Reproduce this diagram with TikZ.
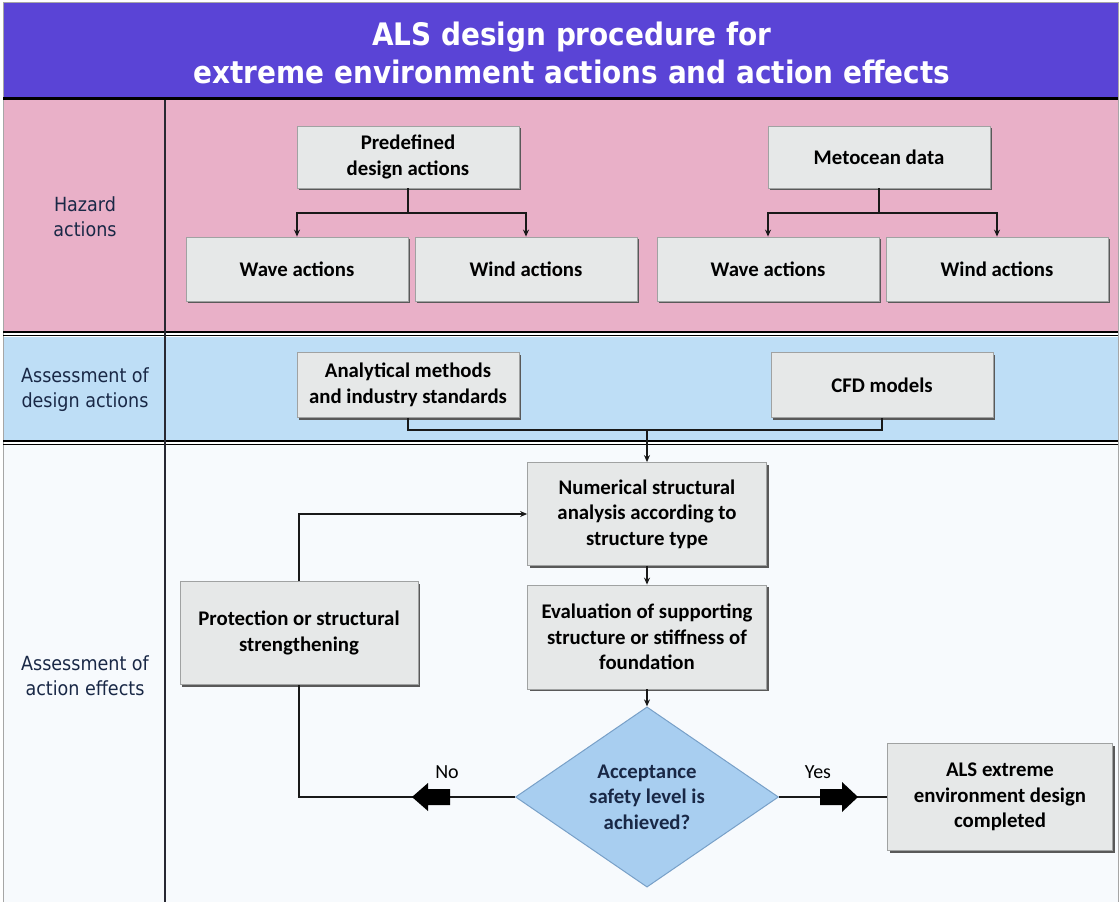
\documentclass[tikz,border=0pt]{standalone}
\usepackage{fontspec}
\setmainfont{Carlito}
\newfontfamily\condfont{DejaVu Sans Condensed}
\usetikzlibrary{shapes.geometric,shadows,arrows.meta}

\definecolor{titlebg}{RGB}{90,68,214}
\definecolor{hazardbg}{RGB}{233,176,200}
\definecolor{assessbg}{RGB}{190,222,246}
\definecolor{effectbg}{RGB}{247,250,253}
\definecolor{boxfill}{RGB}{230,232,232}
\definecolor{boxline}{RGB}{160,162,162}
\definecolor{decfill}{RGB}{168,206,240}
\definecolor{decline}{RGB}{120,160,200}
\definecolor{navy}{RGB}{25,40,70}
\definecolor{divider}{RGB}{40,40,50}

\begin{document}
\begin{tikzpicture}[x=1pt,y=-1pt,
  box/.style={draw=boxline, line width=0.8pt, fill=boxfill,
    minimum width=222pt, minimum height=64pt, inner sep=2pt,
    align=center, text=black,
    font=\bfseries\fontsize{20.8}{25.5}\selectfont,
    drop shadow={shadow xshift=2.4pt, shadow yshift=-2.4pt,
      fill=black!65, opacity=1}},
  lanelabel/.style={align=center, text=navy,
    font=\condfont\fontsize{19.5}{25}\selectfont},
  decision/.style={diamond, draw=decline, line width=1pt, fill=decfill,
    minimum width=263pt, minimum height=177pt, inner sep=0pt,
    align=center, text=navy,
    font=\bfseries\fontsize{20.8}{25.5}\selectfont},
  fatarrow/.style={fill=black},
  branch/.style={font=\fontsize{20}{24}\selectfont, text=black},
  line/.style={draw=black!90, line width=1.8pt},
  arr/.style={line, -{Stealth[length=7pt,width=6pt]}}
]
\useasboundingbox (0,0) rectangle (1120,902);

% lanes
\fill[white] (0,0) rectangle (1120,902);
\fill[titlebg] (3,2) rectangle (1118,97);
\fill[hazardbg] (3,100) rectangle (1118,332);
\fill[assessbg] (3,337) rectangle (1118,441);
\fill[effectbg] (3,445) rectangle (1118,902);
\draw[black!35, line width=0.6pt] (3,2) rectangle (1118,902);
\draw[black, line width=3pt] (3,98.5) -- (1118,98.5);
\draw[black, line width=1.2pt] (3,332) -- (1118,332);
\draw[black, line width=1.6pt] (3,335.5) -- (1118,335.5);
\draw[black, line width=1.2pt] (3,441) -- (1118,441);
\draw[black, line width=1.6pt] (3,444.5) -- (1118,444.5);
\draw[divider, line width=2.6pt] (165,100) -- (165,902);

% title
\node[text=white, align=center,
  font=\condfont\bfseries\fontsize{31}{38}\selectfont] (title)
  at (572,53) {ALS design procedure for\\extreme environment actions and action effects};

% lane labels
\node[lanelabel] (lhz) at (85,217) {Hazard\\actions};
\node[lanelabel] (las) at (85,390) {Assessment of\\design actions};
\node[lanelabel] (lef) at (85,676) {Assessment of\\action effects};

% hazard actions
\node[box, minimum height=62pt] (pre) at (408,157) {Predefined\\design actions};
\node[box, minimum height=62pt] (met) at (879,157) {Metocean data};
\node[box] (wa1) at (297,269) {Wave actions};
\node[box] (wi1) at (526,269) {Wind actions};
\node[box] (wa2) at (768,269) {Wave actions};
\node[box] (wi2) at (997,269) {Wind actions};

\coordinate (j1) at (408,213);
\coordinate (j2) at (879,213);
\draw[line] (pre) -- (j1);
\draw[arr] (j1) -| (wa1);
\draw[arr] (j1) -| (wi1);
\draw[line] (met) -- (j2);
\draw[arr] (j2) -| (wa2);
\draw[arr] (j2) -| (wi2);

% assessment of design actions
\node[box, minimum height=65pt] (ana) at (408,385) {Analytical methods\\and industry standards};
\node[box, minimum height=65pt] (cfd) at (882,385) {CFD models};
\coordinate (j3) at (647,430);
\draw[line] (ana.south) |- (j3) -| (cfd.south);

% assessment of action effects
\node[box, minimum width=239pt, minimum height=103pt] (num) at (647,514)
  {Numerical structural\\analysis according to\\structure type};
\node[box, minimum width=239pt, minimum height=104pt] (eva) at (647,637)
  {Evaluation of supporting\\structure or stiffness of\\foundation};
\node[box, minimum width=238pt, minimum height=103pt] (pro) at (299,633)
  {Protection or structural\\strengthening};
\node[box, minimum width=225pt, minimum height=107pt] (als) at (1000,797)
  {ALS extreme\\environment design\\completed};
\node[decision] (dec) at (647,797) {Acceptance\\safety level is\\achieved?};

\draw[arr] (j3) -- (num);
\draw[arr] (num) -- (eva);
\draw[arr] (eva) -- (dec);
\draw[arr] (pro.north) |- (num.west);
\draw[line] (dec.west) -| (pro.south);
\draw[line] (dec.east) -- (als.west);

% branch markers: block arrows on the No / Yes lines
\coordinate (noarr) at (431,797);
\coordinate (yesarr) at (837,797);
\fill[fatarrow] ([shift={(-19,0)}]noarr) -- ++(16,-14) -- ++(0,6) -- ++(22,0)
  -- ++(0,16) -- ++(-22,0) -- ++(0,6) -- cycle;
\fill[fatarrow] ([shift={(21,0)}]yesarr) -- ++(-16,-15) -- ++(0,7) -- ++(-22,0)
  -- ++(0,16) -- ++(22,0) -- ++(0,7) -- cycle;
\node[branch] (no) at (447,772) {No};
\node[branch] (yes) at (818,772) {Yes};
\end{tikzpicture}
\end{document}
